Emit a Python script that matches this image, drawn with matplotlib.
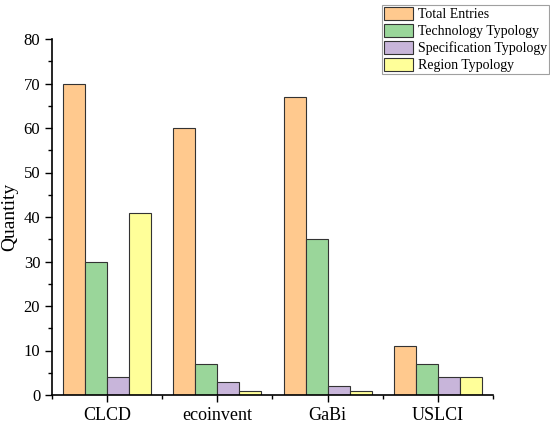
import matplotlib
matplotlib.use("Agg")
import matplotlib.pyplot as plt
from matplotlib.ticker import MultipleLocator, FixedLocator
import numpy as np

plt.rcParams['font.family'] = ['Liberation Serif', 'DejaVu Serif']

categories = ["CLCD", "ecoinvent", "GaBi", "USLCI"]
series_names = ["Total Entries", "Technology Typology", "Specification Typology", "Region Typology"]
total_entries = [70, 60, 67, 11]
technology = [30, 7, 35, 7]
specification = [4, 3, 2, 4]
region = [41, 1, 1, 4]
colors = ["#FFC98E", "#9AD69A", "#C8B5DA", "#FFFF99"]

fig = plt.figure(figsize=(5.5, 4.26), dpi=100)
ax = fig.add_axes([52/550, 1-395/426, (493-52)/550, (395-39)/426])

x = np.arange(1, len(categories)+1)
w = 0.2
data = [total_entries, technology, specification, region]
for i, (vals, name, c) in enumerate(zip(data, series_names, colors)):
    ax.bar(x + (i-1.5)*w, vals, width=w, color=c, edgecolor="#333333", linewidth=0.8, label=name)

ax.set_xlim(0.5, 4.5)
ax.set_ylim(0, 80)
ax.set_xticks(x)
ax.set_xticklabels(categories, fontsize=13)
ax.xaxis.set_minor_locator(FixedLocator([0.5, 1.5, 2.5, 3.5, 4.5]))
ax.yaxis.set_major_locator(MultipleLocator(10))
ax.yaxis.set_minor_locator(MultipleLocator(5))
ax.tick_params(axis='y', labelsize=12, direction='out', length=5, width=1)
ax.tick_params(axis='x', direction='out', length=5, width=1)
ax.tick_params(which='minor', length=3, width=1)
ax.set_ylabel("Quantity", fontsize=14)
for s in ["top", "right"]:
    ax.spines[s].set_visible(False)
for s in ["left", "bottom"]:
    ax.spines[s].set_linewidth(1.2)

leg = ax.legend(loc='upper left', bbox_to_anchor=(382/550, 1-5/426), bbox_transform=fig.transFigure,
                fontsize=10, frameon=True, fancybox=False, edgecolor="#888888",
                handlelength=2.1, handleheight=1.0, handletextpad=0.35, labelspacing=0.22,
                borderpad=0.15, borderaxespad=0)
leg.get_frame().set_linewidth(0.8)

fig.savefig("out.png", dpi=100)
